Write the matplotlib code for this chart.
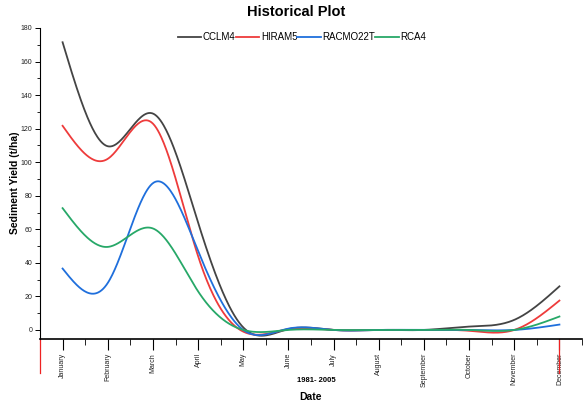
import numpy as np
import matplotlib
matplotlib.use('Agg')
from matplotlib import pyplot as plt
import matplotlib.transforms as mtransforms

plt.rcParams['font.family'] = ['Liberation Sans', 'DejaVu Sans']

months = ['January', 'February', 'March', 'April', 'May', 'June', 'July',
          'August', 'September', 'October', 'November', 'December']

# monthly sediment yield (t/ha)
cclm4 = [171.5, 109.5, 129, 64, 1.5, 0.5, 0, 0, 0, 2, 6, 26]
hiram5 = [121.7, 102, 123, 44, -1, 0.5, 0, 0, 0, -0.5, 0, 17.5]
racmo22t = [36.6, 28, 87.5, 47, 0, 0.8, 0, 0, 0, 0, 0, 3.2]
rca4 = [72.6, 49.5, 60.5, 23, 0, 0, 0, 0, 0, 0, 0, 8]

names = ['CCLM4', 'HIRAM5', 'RACMO22T', 'RCA4']
colors = ['#444444', '#ee3b3b', '#1f6fdc', '#27a868']


def natural_spline(x, y, xs):
    # plain natural cubic spline, no scipy here
    x = np.asarray(x, float)
    y = np.asarray(y, float)
    n = len(x)
    h = np.diff(x)
    A = np.zeros((n, n))
    r = np.zeros(n)
    A[0, 0] = 1
    A[-1, -1] = 1
    for i in range(1, n - 1):
        A[i, i - 1] = h[i - 1]
        A[i, i] = 2 * (h[i - 1] + h[i])
        A[i, i + 1] = h[i]
        r[i] = 6 * ((y[i + 1] - y[i]) / h[i] - (y[i] - y[i - 1]) / h[i - 1])
    m = np.linalg.solve(A, r)
    k = np.clip(np.searchsorted(x, xs) - 1, 0, n - 2)
    t = xs - x[k]
    hk = h[k]
    a = (m[k + 1] - m[k]) / (6 * hk)
    b = m[k] / 2
    c = (y[k + 1] - y[k]) / hk - hk * (2 * m[k] + m[k + 1]) / 6
    return y[k] + c * t + b * t ** 2 + a * t ** 3


fig = plt.figure(figsize=(5.83, 4.07), dpi=100)
ax = fig.add_axes([40 / 583, 1 - 339 / 407, 542 / 583, 311 / 407])

xm = np.arange(12)
xs = np.linspace(0, 11, 600)
for data, name, col in zip([cclm4, hiram5, racmo22t, rca4], names, colors):
    ax.plot(xs, natural_spline(xm, data, xs), color=col, lw=1.3, label=name)

ax.set_xlim(-0.5, 11.5)
ax.set_ylim(-5.4, 180)
ax.spines['top'].set_visible(False)
ax.spines['right'].set_visible(False)
ax.spines['left'].set_linewidth(0.8)
ax.spines['bottom'].set_linewidth(1.2)

ax.set_xticks(xm)
ax.set_xticklabels(months, rotation=90, fontsize=5, va='top', color='#222222')
ax.set_xticks(np.arange(-0.5, 12, 1), minor=True)
ax.set_yticks(np.arange(0, 181, 20))
ax.set_yticks(np.arange(10, 180, 20), minor=True)
ax.tick_params(axis='x', which='major', length=8, width=0.8, pad=2)
ax.tick_params(axis='x', which='minor', length=4, width=0.6)
ax.tick_params(axis='y', which='major', length=3.5, width=0.7, labelsize=5, pad=2, labelcolor='#222222')
ax.tick_params(axis='y', which='minor', length=2, width=0.6)

# red marks under the axis
trans = mtransforms.blended_transform_factory(ax.transData, ax.transAxes)
for xv in [-0.5, 11]:
    ax.plot([xv, xv], [0, -0.109], color='#ee2222', lw=0.9, transform=trans, clip_on=False)

fig.text(316 / 583, 1 - 381 / 407, '1981- 2005', fontsize=5.5, fontweight='bold', ha='center', va='center')
fig.text(311 / 583, 1 - 397 / 407, 'Date', fontsize=7.5, fontweight='bold', ha='center', va='center')
fig.text(15 / 583, 1 - 183 / 407, 'Sediment Yield (t/ha)', fontsize=7.5, fontweight='bold',
         rotation=90, ha='center', va='center')
fig.text(296 / 583, 1 - 12 / 407, 'Historical Plot', fontsize=10.5, fontweight='bold', ha='center', va='center')

ax.legend(loc='center', bbox_to_anchor=(302 / 583, 1 - 37 / 407), bbox_transform=fig.transFigure,
          ncol=4, frameon=False, fontsize=7, handlelength=2.4, handletextpad=0.2,
          columnspacing=0.0, borderpad=0)

fig.savefig('out.png', dpi=100)
